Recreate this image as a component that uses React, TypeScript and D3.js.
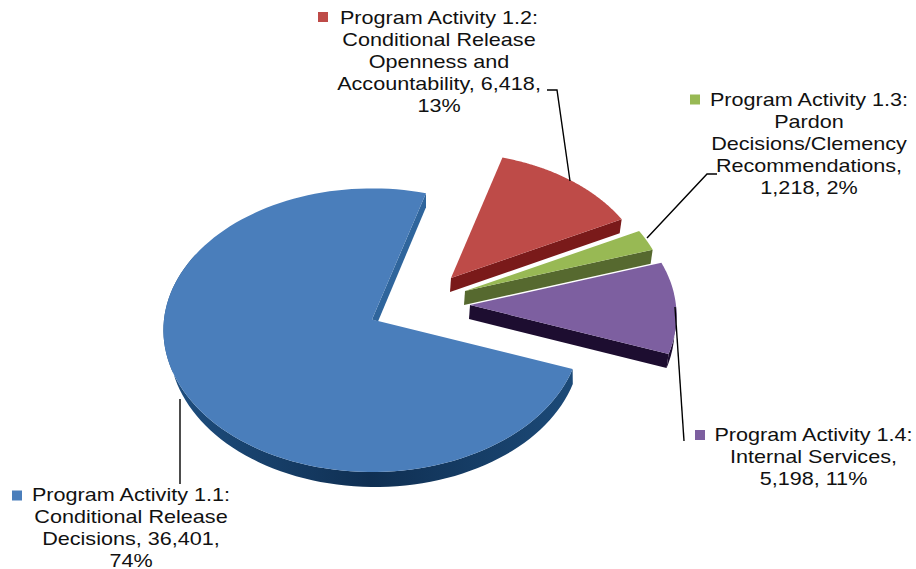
import React from "react";
import * as d3 from "d3";

const names = ["Program Activity 1.1", "Program Activity 1.2", "Program Activity 1.3", "Program Activity 1.4"];
const values = [36401, 6418, 1218, 5198];
const labelLines = [
  ["Program Activity 1.1:", "Conditional Release", "Decisions, 36,401,", "74%"],
  ["Program Activity 1.2:", "Conditional Release", "Openness and", "Accountability, 6,418,", "13%"],
  ["Program Activity 1.3:", "Pardon", "Decisions/Clemency", "Recommendations,", "1,218, 2%"],
  ["Program Activity 1.4:", "Internal Services,", "5,198, 11%"],
];
const topColors = ["#4a7ebb", "#be4b48", "#98b954", "#7d5fa0"];
const wallColors = ["#2f659c", "#7a1a1a", "#56692f", "#1d0d30"];
const apexes: [number, number][] = [[372, 319.5], [451, 278], [465, 291], [470, 305]];
const radiusScale = [1, 0.95, 0.97, 0.99];
const depthApex: [number, number][] = [[6, 2], [-1, 14], [-1, 14], [-1, 14]];
const labelCenters: [number, number][] = [[131, 496], [439, 19], [809, 101], [813.5, 436]];
const markers: [number, number][] = [[17, 495.5], [323, 17], [695, 99.5], [700, 435]];
const leaders: [number, number][][] = [
  [[180, 399], [180, 484]],
  [[570, 181], [557, 90], [547, 90]],
  [[647, 238], [707, 174], [717, 174]],
  [[675, 307], [684, 441]],
];

const RX = 208, RY = 141, K = 0.0753, RIM_DEPTH = 14;
const rad = (d: number) => (d * Math.PI) / 180;

function project(a: number, r: number): [number, number] {
  const u = Math.sin(a) * r, v = Math.cos(a) * r;
  const s = 1 / (1 + K * v);
  return [RX * u * s, -RY * v * s];
}

export default function App() {
  const arcs = d3.pie<number>().sort(null).startAngle(rad(110)).endAngle(rad(470))(values);
  const line = d3.line();
  const paths = arcs.map((arc, i) => {
    const [ax, ay] = apexes[i];
    const r = radiusScale[i];
    const pt = (a: number): [number, number] => {
      const p = project(a, r);
      return [ax + p[0], ay + p[1]];
    };
    const angles = d3.range(0, 121).map((n) => arc.startAngle + ((arc.endAngle - arc.startAngle) * n) / 120);
    const top = line([[ax, ay], ...angles.map(pt)]) + "Z";
    const endP = pt(arc.endAngle);
    const edgeWall = line([
      [ax, ay], endP, [endP[0] - (i ? 2 : 0), endP[1] + RIM_DEPTH],
      [ax + depthApex[i][0], ay + depthApex[i][1]],
    ]) + "Z";
    const low = angles.filter((a) => {
      const n = ((a % (2 * Math.PI)) + 2 * Math.PI) % (2 * Math.PI);
      return n > Math.PI / 2 && n < rad(i ? 270 : 300);
    });
    const bottomPt = (a: number): [number, number] => {
      const p = pt(a);
      return i ? [p[0] - 2, p[1] + RIM_DEPTH] : [p[0] + 3 - 3 * Math.sin(a), p[1] + RIM_DEPTH + 1];
    };
    const rim = low.length
      ? line([...low.map(pt), ...low.slice().reverse().map(bottomPt)]) + "Z"
      : null;
    return { top, edgeWall, rim };
  });

  return (
    <svg width={916} height={569} style={{ position: "absolute", left: 0, top: 0, background: "#fff" }}
      fontFamily="'Liberation Sans', Arial, sans-serif">
      <defs>
        <linearGradient id="blueWall" gradientUnits="userSpaceOnUse" x1={165} y1={0} x2={575} y2={0}>
          <stop offset="0" stopColor="#1f4f80" />
          <stop offset="0.5" stopColor="#0f2f52" />
          <stop offset="1" stopColor="#1c4a78" />
        </linearGradient>
      </defs>
      {paths.map((p, i) => (
        <g key={names[i]}>
          <path d={p.edgeWall} fill={wallColors[i]} />
          {p.rim ? <path d={p.rim} fill={i === 0 ? "url(#blueWall)" : wallColors[i]} /> : null}
          <path d={p.top} fill={topColors[i]} />
        </g>
      ))}
      {leaders.map((l, i) => (
        <path key={i} d={line(l) ?? ""} fill="none" stroke="#000" strokeWidth={1.4} />
      ))}
      {markers.map((m, i) => (
        <rect key={i} x={m[0] - 5} y={m[1] - 5} width={10} height={10} fill={topColors[i]} />
      ))}
      {labelLines.map((lines, i) =>
        lines.map((t, j) => (
          <text key={j} transform={`translate(${labelCenters[i][0]},${labelCenters[i][1] + j * 22}) scale(1.235,1)`}
            textAnchor="middle" fontSize={17.5} fill="#111" dominantBaseline="middle">
            {t}
          </text>
        ))
      )}
    </svg>
  );
}
